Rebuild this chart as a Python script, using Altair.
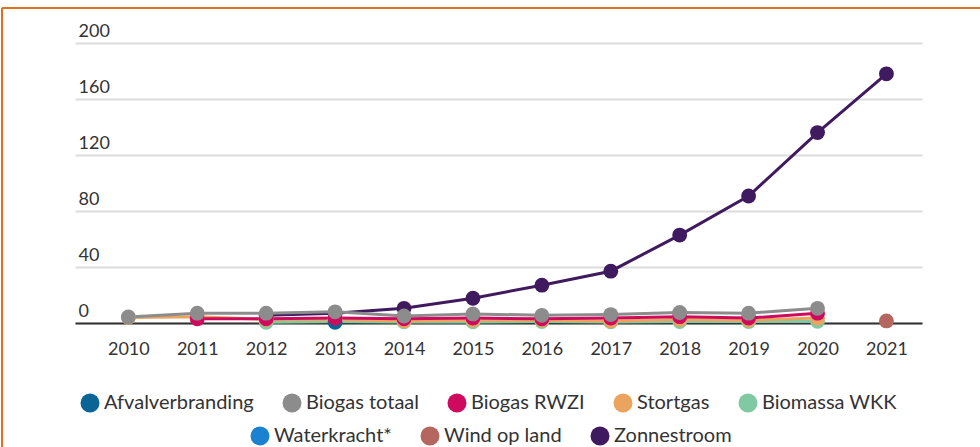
import altair as alt
import pandas as pd

years = [2010, 2011, 2012, 2013, 2014, 2015, 2016, 2017, 2018, 2019, 2020, 2021]

afvalverbranding = [None, None, None, 0.5, None, None, None, None, None, None, None, None]
biogas_totaal = [4.3, 7.0, 7.0, 8.0, 5.0, 6.5, 5.5, 6.0, 7.5, 7.0, 10.5, None]
biogas_rwzi = [None, 3.0, 3.0, 3.5, 3.0, 3.5, 3.0, 3.5, 4.5, 3.5, 7.0, None]
stortgas = [4.0, 4.5, 2.5, 2.5, 1.5, 2.0, 2.0, 1.5, 2.5, 2.0, 3.5, None]
biomassa_wkk = [None, None, 0.5, 1.0, 0.8, 0.8, 1.0, 0.8, 1.0, 1.0, 1.2, None]
waterkracht = [None] * 12
wind_op_land = [None, None, None, None, None, None, None, None, None, None, None, 1.5]
zonnestroom = [None, None, 5.5, 7.0, 10.5, 17.7, 27.0, 37.0, 62.8, 90.7, 136.0, 178.0]

names_a = ["Afvalverbranding", "Biogas totaal", "Biogas RWZI", "Stortgas", "Biomassa WKK"]
names_b = ["Waterkracht*", "Wind op land", "Zonnestroom"]
colors_a = ["#0b6496", "#8c8c8c", "#cf0a5e", "#eba360", "#80c9a2"]
colors_b = ["#1a82d0", "#b4665f", "#3f1a5e"]

values = {
    "Afvalverbranding": afvalverbranding,
    "Biogas totaal": biogas_totaal,
    "Biogas RWZI": biogas_rwzi,
    "Stortgas": stortgas,
    "Biomassa WKK": biomassa_wkk,
    "Waterkracht*": waterkracht,
    "Wind op land": wind_op_land,
    "Zonnestroom": zonnestroom,
}
# drawing order (lower first)
draw_order = ["Zonnestroom", "Wind op land", "Waterkracht*", "Biomassa WKK",
              "Stortgas", "Afvalverbranding", "Biogas RWZI", "Biogas totaal"]

rows = []
for z, name in enumerate(draw_order):
    for yr, v in zip(years, values[name]):
        if v is not None:
            rows.append({"jaar": str(yr), "serie": name, "waarde": v, "z": z})
df = pd.DataFrame(rows)
df_a = df[df["serie"].isin(names_a)]
df_b = df[df["serie"].isin(names_b)]

FONT = "Lato"
TXT = "#333333"

x_enc = alt.X(
    "jaar:O",
    scale=alt.Scale(type="point", padding=0.645, align=0.6, domain=[str(y) for y in years]),
    axis=alt.Axis(title=None, labelAngle=0, domain=True, domainColor="#333333",
                  domainWidth=2, ticks=False, labelPadding=17, labelFontSize=18,
                  grid=False),
)
y_enc = alt.Y(
    "waarde:Q",
    scale=alt.Scale(domain=[0, 200]),
    axis=alt.Axis(title=None, values=[0, 40, 80, 120, 160, 200], domain=False,
                  ticks=False, grid=True, gridColor="#dcdcdc", gridWidth=2,
                  labelAlign="left", labelBaseline="alphabetic", labelPadding=-3,
                  labelOffset=-7, labelFontSize=18),
)


def legend(x, y):
    return alt.Legend(title=None, orient="none", legendX=x, legendY=y,
                      direction="horizontal", symbolType="circle", symbolSize=360,
                      symbolStrokeWidth=0, labelFontSize=20,
                      labelFont=FONT, labelColor=TXT, columnPadding=28,
                      labelOffset=4, padding=0)


def group(data, names, colors, lx, ly):
    base = alt.Chart(data).encode(
        x=x_enc, y=y_enc,
        color=alt.Color("serie:N", scale=alt.Scale(domain=names, range=colors),
                        legend=legend(lx, ly)),
    )
    line = base.mark_line(strokeWidth=3)
    pts = base.mark_circle(size=220, opacity=1).encode(order=alt.Order("z:Q"))
    return alt.layer(line, pts)


one = pd.DataFrame({"a": [0]})
frame_h = alt.Chart(one).mark_rule(color="#e2711d", strokeWidth=2).encode(
    x=alt.value(-73), x2=alt.value(905), y=alt.value(-35))
frame_v = alt.Chart(one).mark_rule(color="#e2711d", strokeWidth=2).encode(
    x=alt.value(-73), y=alt.value(-35), y2=alt.value(404))

chart = alt.layer(
    frame_h, frame_v,
    group(df_b, names_b, colors_b, 175, 383),
    group(df_a, names_a, colors_a, 5, 350),
).resolve_scale(color="independent").properties(
    width=847, height=280,
    autosize=alt.AutoSizeParams(type="none"),
    padding={"left": 75, "top": 43, "right": 58, "bottom": 124},
).configure_view(stroke=None).configure_axis(
    labelFont=FONT, labelColor=TXT
)

chart.save("out.html", embed_options={"renderer": "svg", "actions": False})
